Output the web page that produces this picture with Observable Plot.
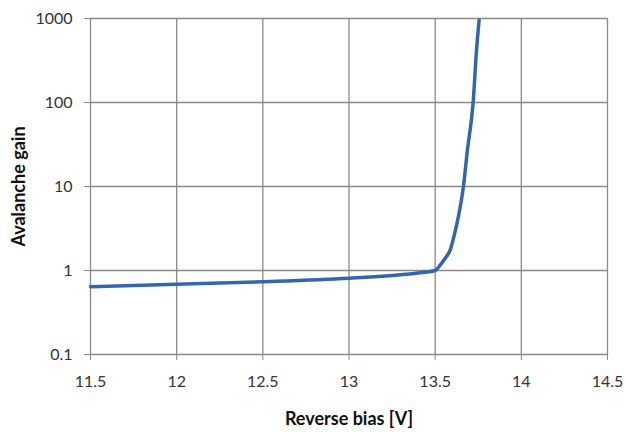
<!DOCTYPE html>
<html>
<head>
<meta charset="utf-8">
<script src="https://cdn.jsdelivr.net/npm/d3@7"></script>
<script src="https://cdn.jsdelivr.net/npm/@observablehq/plot@0.6"></script>
<style>
  html, body { margin: 0; padding: 0; background: #fff; }
  #chart svg { display: block; }
</style>
</head>
<body>
<div id="chart"></div>
<script>
const bias = [11.5, 12.0, 12.5, 13.0, 13.3, 13.45, 13.5, 13.529, 13.558, 13.587, 13.61, 13.635, 13.664, 13.687, 13.72, 13.74, 13.755];
const gain = [0.64, 0.685, 0.735, 0.81, 0.89, 0.96, 1.0, 1.16, 1.4, 1.75, 2.6, 4.4, 10, 27, 98, 420, 960];
const xTicks = [11.5, 12, 12.5, 13, 13.5, 14, 14.5];
const yTicks = [0.1, 1, 10, 100, 1000];

const data = bias.map((b, i) => ({bias: b, gain: gain[i]}));

const chart = Plot.plot({
  width: 625,
  height: 432,
  marginLeft: 90,
  marginRight: 18,
  marginTop: 18,
  marginBottom: 78,
  style: {fontFamily: "Lato, 'Open Sans', sans-serif", fontSize: "16px", color: "#333", background: "#fff"},
  x: {domain: [11.5, 14.5]},
  y: {type: "log", domain: [0.1, 1000]},
  marks: [
    Plot.gridX(xTicks, {stroke: "#8a8a8a", strokeOpacity: 1, strokeWidth: 1.3}),
    Plot.gridY(yTicks, {stroke: "#8a8a8a", strokeOpacity: 1, strokeWidth: 1.3}),
    Plot.axisX(xTicks, {tickFormat: d => String(d), tickSize: 6, tickPadding: 15, stroke: "#8a8a8a",
      label: "Reverse bias [V]", labelAnchor: "center", labelArrow: "none", labelOffset: 70}),
    Plot.axisY(yTicks, {tickFormat: d => String(d), tickSize: 6, tickPadding: 12, stroke: "#8a8a8a",
      label: "Avalanche gain", labelAnchor: "center", labelArrow: "none", labelOffset: 78}),
    Plot.line(data, {x: "bias", y: "gain", stroke: "#3466b0", strokeWidth: 3.5, curve: "monotone-x"})
  ]
});
document.getElementById("chart").appendChild(chart);
chart.querySelectorAll("g[aria-label='x-axis label'] text, g[aria-label='y-axis label'] text").forEach(t => {
  t.style.fontWeight = "bold";
  t.style.fontSize = "18px";
  t.style.fill = "#111";
});
</script>
</body>
</html>
